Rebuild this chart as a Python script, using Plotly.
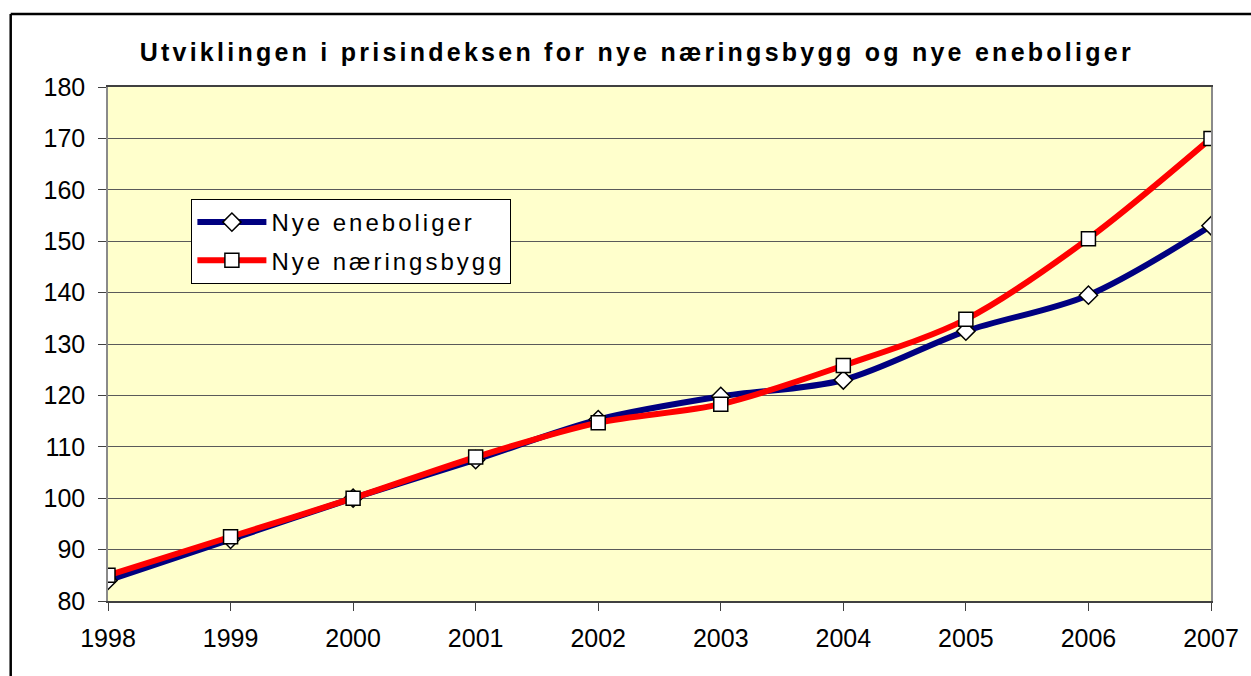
import plotly.graph_objects as go

years = [1998, 1999, 2000, 2001, 2002, 2003, 2004, 2005, 2006, 2007]
eneboliger = [84.0, 92.0, 100.0, 107.5, 115.3, 119.8, 123.0, 132.5, 139.5, 153.0]
naeringsbygg = [85.0, 92.5, 100.0, 108.0, 114.7, 118.3, 125.8, 134.8, 150.5, 170.0]
y_ticks = [80, 90, 100, 110, 120, 130, 140, 150, 160, 170, 180]

FONT = "Liberation Sans, Arial, sans-serif"

fig = go.Figure()
fig.add_trace(go.Scatter(
    x=years, y=eneboliger, name="Nye eneboliger", mode="lines+markers",
    legendgroup="a",
    line=dict(color="#000080", width=6, shape="spline", smoothing=0.9),
    marker=dict(symbol="diamond", size=14, color="white", line=dict(color="black", width=1.5)),
))
fig.add_trace(go.Scatter(
    x=years, y=naeringsbygg, name="Nye næringsbygg", mode="lines+markers",
    legendgroup="b",
    line=dict(color="#FF0000", width=6, shape="spline", smoothing=0.9),
    marker=dict(symbol="square", size=14, color="white", line=dict(color="black", width=1.5)),
))

L, R, T, B = 108, 32, 87, 75
W, H = 1251, 676
pw, ph = W - L - R, H - T - B

def px2x(px):
    return (px - L) / pw

def py2y(py):
    return (H - B - py) / ph

fig.update_layout(
    width=W, height=H,
    margin=dict(l=L, r=R, t=T, b=B),
    paper_bgcolor="white",
    plot_bgcolor="#FFFFCC",
    font=dict(family=FONT, size=25, color="black"),
    title=dict(
        text="<b>Utviklingen i prisindeksen for nye næringsbygg og nye eneboliger</b>",
        x=0.509, xanchor="center", y=1 - 52 / H, yanchor="middle",
        font=dict(family=FONT, size=25, color="black"),
    ),
    xaxis=dict(
        range=[1998, 2007], tickvals=years, ticktext=[str(y) for y in years],
        showgrid=False, zeroline=False,
        showline=True, linecolor="#404040", linewidth=1.5, mirror=True,
        ticks="outside", ticklen=8, tickcolor="#404040",
        tickfont=dict(size=25), ticklabelstandoff=6,
    ),
    yaxis=dict(
        range=[80, 180], tickvals=y_ticks,
        showgrid=True, gridcolor="#5a5a5a", gridwidth=1, zeroline=False,
        showline=True, linecolor="#8a8a8a", linewidth=1.5, mirror=True,
        ticks="outside", ticklen=8, tickcolor="#404040",
        tickfont=dict(size=25), ticklabelstandoff=8,
    ),
    legend=dict(
        x=px2x(192), y=py2y(199), xanchor="left", yanchor="top",
        bgcolor="white", bordercolor="black", borderwidth=1,
        font=dict(family=FONT, size=24),
        itemwidth=69, tracegroupgap=4,
    ),
    showlegend=True,
)

# outer chart frame (top and left edges visible)
fig.add_shape(type="line", xref="paper", yref="paper",
              x0=px2x(10), x1=px2x(1260), y0=py2y(14), y1=py2y(14),
              line=dict(color="black", width=2.5))
fig.add_shape(type="line", xref="paper", yref="paper",
              x0=px2x(10), x1=px2x(10), y0=py2y(14), y1=py2y(690),
              line=dict(color="black", width=2.5))

post = """
var st = document.createElement('style');
st.innerHTML = 'html,body{margin:0;padding:0;overflow:hidden;} text.gtitle{letter-spacing:3.25px;} text.legendtext{letter-spacing:3px;}';
document.head.appendChild(st);
var gd = document.getElementById('{plot_id}');
Plotly.relayout(gd, {'legend.font.size': 24.001, 'title.font.size': 25.001});
"""

fig.write_html("out.html", post_script=post, config={"displayModeBar": False})
